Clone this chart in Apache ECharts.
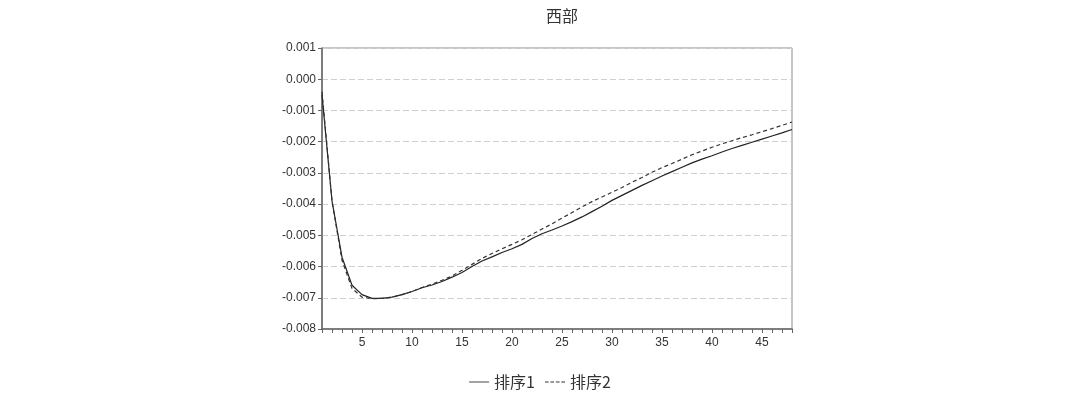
<!DOCTYPE html>
<html><head><meta charset="utf-8">
<script src="https://cdn.jsdelivr.net/npm/echarts@6/dist/echarts.min.js"></script>
<style>html,body{margin:0;padding:0;background:#fff}#c{width:1080px;height:398px}</style>
</head><body><div id="c"></div>
<script>
const title = "西部";
const periods = Array.from({length:48},(_,i)=>i+1);
const seriesNames = ["排序1","排序2"];
const order1 = [-0.0005,-0.0039,-0.0057,-0.0066,-0.0069,-0.00702,-0.00702,-0.00698,-0.0069,-0.0068,
 -0.00668,-0.00659,-0.00648,-0.00634,-0.00619,-0.00600,-0.00582,-0.00569,-0.00555,-0.00543,
 -0.00529,-0.00510,-0.00495,-0.00483,-0.00470,-0.00456,-0.00441,-0.00424,-0.00407,-0.00388,
 -0.00372,-0.00356,-0.00340,-0.00325,-0.00310,-0.00296,-0.00282,-0.00268,-0.00256,-0.00245,
 -0.00233,-0.00222,-0.00212,-0.00202,-0.00192,-0.00182,-0.00172,-0.00161];
const order2 = [-0.0004,-0.0039,-0.0058,-0.0067,-0.00698,-0.00703,-0.00702,-0.00698,-0.0069,-0.0068,
 -0.00667,-0.00656,-0.00644,-0.0063,-0.00612,-0.00593,-0.00574,-0.00558,-0.00543,-0.00529,
 -0.00514,-0.00497,-0.00480,-0.00463,-0.00445,-0.00427,-0.00409,-0.00392,-0.00377,-0.00362,
 -0.00347,-0.00330,-0.00315,-0.00298,-0.00283,-0.00270,-0.00256,-0.00242,-0.00230,-0.00218,
 -0.00207,-0.00197,-0.00187,-0.00178,-0.00168,-0.00158,-0.00148,-0.00137];
const yMin = -0.008, yMax = 0.001, yStep = 0.001;

const chart = echarts.init(document.getElementById('c'));
const font = "'Liberation Sans', Arial, 'Noto Sans CJK SC', sans-serif";
const dashIcon = 'path://M0,5h4v1h-4zM6,5h4v1h-4zM12,5h4v1h-4zM18,5h4v1h-4z';
const solidIcon = 'path://M0,5h22v1h-22z';
chart.setOption({
  animation:false,
  textStyle:{fontFamily:font},
  title:{text:title,left:557,textAlign:'center',top:3,textStyle:{fontSize:16,fontWeight:'normal',color:'#333',fontFamily:"'Noto Sans CJK SC', sans-serif"}},
  grid:{left:322,right:288,top:48,bottom:69,show:true,borderColor:'#8a8a8a',borderWidth:1},
  legend:{bottom:3,left:'center',itemWidth:20,itemHeight:10,itemGap:10,
    textStyle:{fontSize:16,color:'#333',fontFamily:"'Noto Sans CJK SC', sans-serif"},
    data:[{name:seriesNames[0],icon:solidIcon,itemStyle:{color:'#333'}},{name:seriesNames[1],icon:dashIcon,itemStyle:{color:'#333'}}]},
  xAxis:{type:'value',min:1,max:48,interval:1,
    axisLine:{onZero:false,lineStyle:{color:'#666',width:1.5}},
    axisTick:{length:4,lineStyle:{color:'#666'}},
    splitLine:{show:false},
    axisLabel:{fontSize:12,color:'#333',margin:8,formatter:v=>v%5===0?String(v):''}},
  yAxis:{type:'value',min:yMin,max:yMax,interval:yStep,
    axisLine:{show:true,lineStyle:{color:'#666',width:1.5}},
    axisTick:{show:true,length:4,lineStyle:{color:'#666'}},
    splitLine:{show:true,lineStyle:{color:'#d0d0d0',type:[6,3],width:1}},
    axisLabel:{fontSize:12,color:'#333',margin:6,formatter:v=>v.toFixed(3)}},
  series:[
    {name:seriesNames[0],type:'line',data:periods.map((p,i)=>[p,order1[i]]),showSymbol:false,symbol:'none',
     lineStyle:{color:'#222',width:1.2},itemStyle:{color:'#222'}},
    {name:seriesNames[1],type:'line',data:periods.map((p,i)=>[p,order2[i]]),showSymbol:false,symbol:'none',
     lineStyle:{color:'#333',width:1.2,type:[4,3]},itemStyle:{color:'#333'}}
  ]
});
</script></body></html>
